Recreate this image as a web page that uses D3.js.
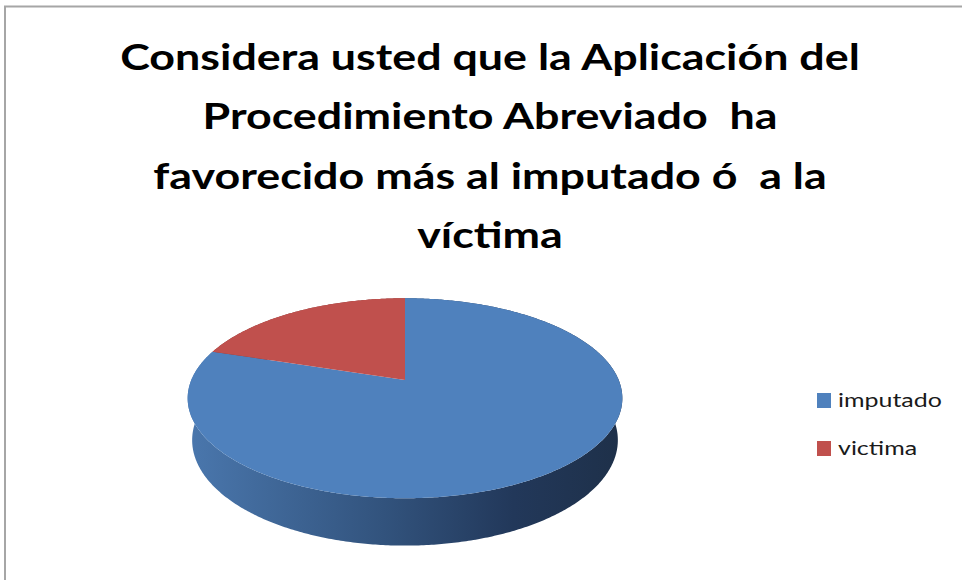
<!DOCTYPE html>
<html>
<head>
<meta charset="utf-8">
<script src="https://cdn.jsdelivr.net/npm/d3@7"></script>
<style>
  html, body { margin: 0; padding: 0; background: #fff; }
  svg { display: block; }
</style>
</head>
<body>
<div id="wrapper"></div>
<script>
// Data
const categories = ["imputado", "victima"];
const values = [80, 20];
const colors = ["#4f81bd", "#c0504d"];
const titleLines = [
  "Considera usted que la Aplicación del",
  "Procedimiento Abreviado  ha",
  "favorecido más al imputado ó  a la",
  "víctima"
];

function drawPie() {
  const width = 962, height = 580;

  const svg = d3.select("#wrapper")
    .append("svg")
    .attr("width", width)
    .attr("height", height);

  // frame (only top and left edges show in the picture)
  svg.append("path")
    .attr("d", "M5,580 L5,6.5 L962,6.5")
    .attr("fill", "none")
    .attr("stroke", "#a6a6a6")
    .attr("stroke-width", 2);

  // title, stretched sideways like the original picture
  const titleX = 490;
  const titleG = svg.append("g");
  const title = titleG.append("text")
    .attr("text-anchor", "middle")
    .attr("font-family", "Lato, 'Open Sans', sans-serif")
    .attr("font-weight", "bold")
    .attr("font-size", 36)
    .attr("fill", "#000")
    .style("white-space", "pre");
  title.selectAll("tspan")
    .data(titleLines)
    .join("tspan")
    .attr("x", 0)
    .attr("y", (d, i) => 70 + i * 59.3)
    .text(d => d);
  const firstLen = title.select("tspan").node().getComputedTextLength();
  const stretch = 740 / firstLen;
  titleG.attr("transform", `translate(${titleX},0) scale(${stretch},1)`);

  // 3D pie: perspective projection of a tilted disc
  const cx = 405, cy = 380;
  const tilt = 26.9 * Math.PI / 180;
  const c = Math.cos(tilt), s = Math.sin(tilt);
  const D = 4.89, f = 1045, h = 0.221;

  // a: angle clockwise from the far point, y: 0 top face, h bottom
  const proj = (a, y) => {
    const X = Math.sin(a), Z = -Math.cos(a);
    const depth = D - Z * c + y * s;
    return [cx + f * X / depth, cy + f * (Z * s + y * c) / depth];
  };
  const rim = (a0, a1, y) => {
    const n = Math.max(2, Math.ceil((a1 - a0) / 0.01));
    return d3.range(n + 1).map(i => proj(a0 + (a1 - a0) * i / n, y));
  };
  const line = d3.line();

  const arcs = d3.pie().sort(null).value(d => d)(values);

  const defs = svg.append("defs");
  const grad = defs.append("linearGradient")
    .attr("id", "side")
    .attr("gradientUnits", "userSpaceOnUse")
    .attr("x1", cx - 217).attr("x2", cx + 217)
    .attr("y1", 0).attr("y2", 0);
  [[0, "#4a77ad"], [0.45, "#32537d"], [0.75, "#22385a"], [1, "#1e3049"]]
    .forEach(([o, col]) => grad.append("stop").attr("offset", o).attr("stop-color", col));

  // side walls (back parts are covered by the top faces drawn afterwards)
  svg.append("g").selectAll("path")
    .data(arcs)
    .join("path")
    .attr("d", d => line(rim(d.startAngle, d.endAngle, 0)
      .concat(rim(d.startAngle, d.endAngle, h).reverse())) + "Z")
    .attr("fill", (d, i) => i === 0 ? "url(#side)" : d3.color(colors[i]).darker(1));

  // top faces
  svg.append("g").selectAll("path")
    .data(arcs)
    .join("path")
    .attr("d", d => line([[cx, cy]].concat(rim(d.startAngle, d.endAngle, 0))) + "Z")
    .attr("fill", (d, i) => colors[i]);

  // legend
  const legend = svg.append("g")
    .attr("transform", "translate(817, 393)");
  const item = legend.selectAll("g")
    .data(categories)
    .join("g")
    .attr("transform", (d, i) => `translate(0, ${i * 48})`);
  item.append("rect")
    .attr("width", 14)
    .attr("height", 15)
    .attr("fill", (d, i) => colors[i]);
  const labels = item.append("text")
    .attr("x", 0)
    .attr("y", 14)
    .attr("font-family", "Lato, 'Open Sans', sans-serif")
    .attr("font-size", 20)
    .attr("fill", "#1a1a1a")
    .text(d => d);
  const legStretch = 104 / labels.node().getComputedTextLength();
  labels.attr("transform", `translate(21,0) scale(${legStretch},1)`);
}

drawPie();
</script>
</body>
</html>
